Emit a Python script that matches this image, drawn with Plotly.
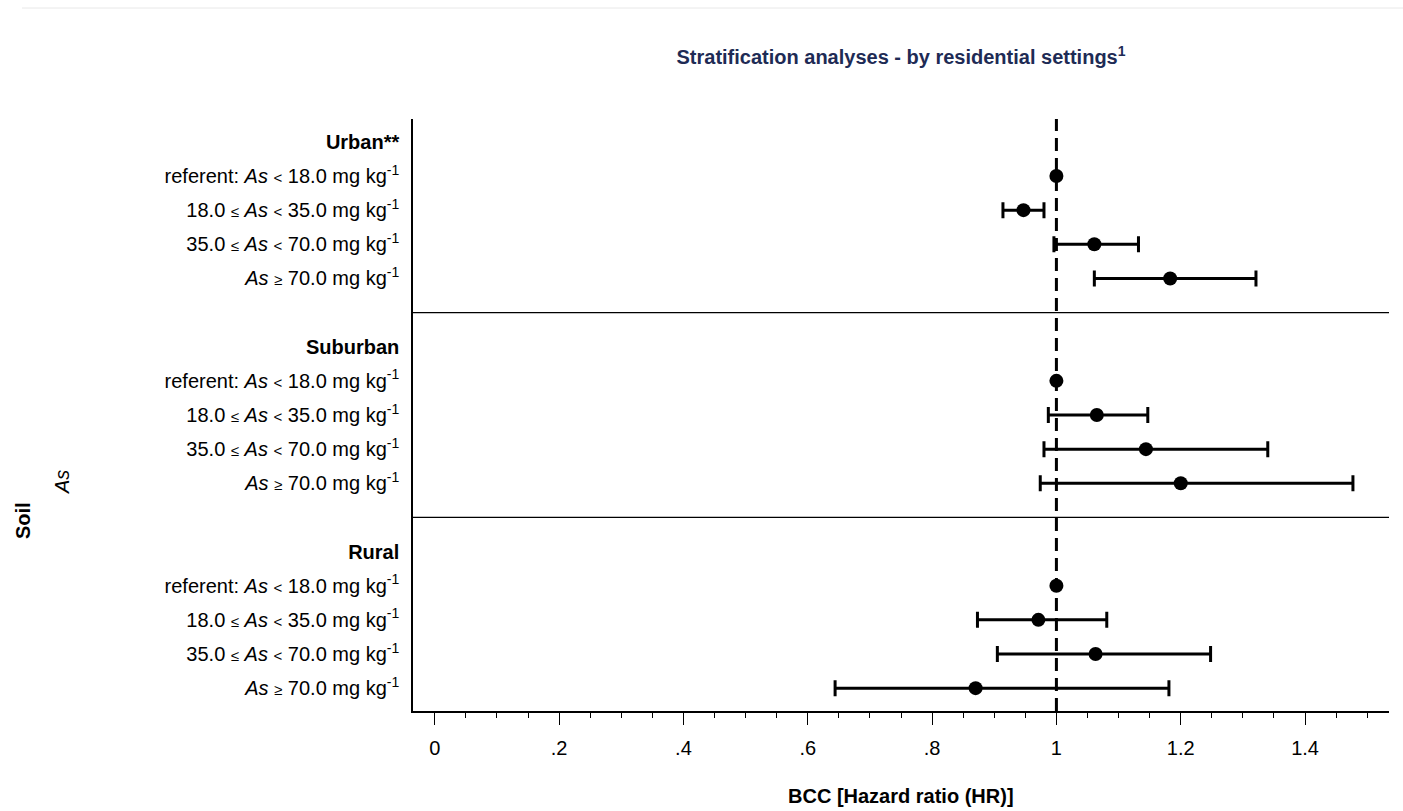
import plotly.graph_objects as go

# ---------------- data ----------------
groups = ["Urban**", "Suburban", "Rural"]
SYM = '<span style="font-size:15px">{}</span>'
row_labels = [
    "referent: <i>As</i> " + SYM.format("&lt;") + " 18.0 mg kg<sup>-1</sup>",
    "18.0 " + SYM.format("≤") + " <i>As</i> " + SYM.format("&lt;") + " 35.0 mg kg<sup>-1</sup>",
    "35.0 " + SYM.format("≤") + " <i>As</i> " + SYM.format("&lt;") + " 70.0 mg kg<sup>-1</sup>",
    "<i>As</i> " + SYM.format("≥") + " 70.0 mg kg<sup>-1</sup>",
]
hr_urban = [1.0, 0.947, 1.061, 1.183]
lo_urban = [None, 0.914, 0.996, 1.061]
hi_urban = [None, 0.980, 1.132, 1.321]
hr_suburban = [1.0, 1.065, 1.144, 1.200]
lo_suburban = [None, 0.987, 0.980, 0.974]
hi_suburban = [None, 1.147, 1.340, 1.477]
hr_rural = [1.0, 0.971, 1.063, 0.870]
lo_rural = [None, 0.873, 0.905, 0.644]
hi_rural = [None, 1.081, 1.248, 1.181]
x_tickvals = [0, 0.2, 0.4, 0.6, 0.8, 1.0, 1.2, 1.4]
x_ticktext = ["0", ".2", ".4", ".6", ".8", "1", "1.2", "1.4"]

hr_all = [hr_urban, hr_suburban, hr_rural]
lo_all = [lo_urban, lo_suburban, lo_rural]
hi_all = [hi_urban, hi_suburban, hi_rural]

FONT = "Liberation Sans, Arial, sans-serif"
FS = 20

# build rows
tickvals, ticktext = [], []
ref_x, ref_y = [], []
ci_x, ci_y, ci_plus, ci_minus = [], [], [], []
for g, name in enumerate(groups):
    base = g * 6
    tickvals.append(base)
    ticktext.append("<b>" + name + "</b>")
    for i, lab in enumerate(row_labels):
        yv = base + 1 + i
        tickvals.append(yv)
        ticktext.append(lab)
        h, lo, hi = hr_all[g][i], lo_all[g][i], hi_all[g][i]
        if lo is None:
            ref_x.append(h)
            ref_y.append(yv)
        else:
            ci_x.append(h)
            ci_y.append(yv)
            ci_plus.append(hi - h)
            ci_minus.append(h - lo)

fig = go.Figure()
fig.add_trace(go.Scatter(
    x=ci_x, y=ci_y, mode="markers",
    marker=dict(color="black", size=14, symbol="circle"),
    error_x=dict(type="data", symmetric=False, array=ci_plus, arrayminus=ci_minus,
                 color="black", thickness=3, width=8),
    showlegend=False, hoverinfo="x+y",
))
fig.add_trace(go.Scatter(
    x=ref_x, y=ref_y, mode="markers",
    marker=dict(color="black", size=14, symbol="circle"),
    showlegend=False,
))

shapes = []
# separators between groups
for g in range(len(groups) - 1):
    yv = g * 6 + 5
    shapes.append(dict(type="line", xref="paper", x0=0, x1=1, yref="y", y0=yv, y1=yv,
                       line=dict(color="black", width=1.2), layer="below"))
# reference line at HR = 1
shapes.append(dict(type="line", xref="x", x0=1, x1=1, yref="paper", y0=0, y1=1,
                   line=dict(color="black", width=3, dash="13px,7px"), layer="below"))
# faint top border
shapes.append(dict(type="line", xref="paper", x0=-0.4006, x1=1.02, yref="paper", y0=1.1875, y1=1.1875,
                   line=dict(color="#e8e8e8", width=1)))

annotations = [
    dict(text="<b>Soil</b>", xref="paper", yref="paper", x=-0.3996, y=0.3226,
         textangle=-90, showarrow=False, font=dict(size=FS, color="black", family=FONT),
         xanchor="center", yanchor="middle"),
    dict(text="<i>As</i>", xref="paper", yref="paper", x=-0.3596, y=0.3868,
         textangle=-90, showarrow=False, font=dict(size=FS, color="black", family=FONT),
         xanchor="center", yanchor="middle"),
    dict(text="<b>BCC [Hazard ratio (HR)]</b>", xref="paper", yref="paper", x=0.5, y=-0.1436,
         showarrow=False, font=dict(size=FS, color="black", family=FONT),
         xanchor="center", yanchor="middle"),
]

fig.update_layout(
    width=1403, height=811,
    margin=dict(l=413, r=14, t=119, b=100),
    paper_bgcolor="white", plot_bgcolor="white",
    font=dict(family=FONT, size=FS, color="black"),
    title=dict(text="<b>Stratification analyses - by residential settings<sup>1</sup></b>",
               x=0.5, xref="paper", xanchor="center", y=1 - 57 / 811, yanchor="middle",
               font=dict(size=FS, color="#1e2b55", family=FONT)),
    shapes=shapes,
    annotations=annotations,
    xaxis=dict(range=[-0.035, 1.535], tickvals=x_tickvals, ticktext=x_ticktext,
               showgrid=False, zeroline=False, showline=True, linecolor="black", linewidth=1.5,
               ticks="outside", ticklen=12, tickwidth=1.2, tickcolor="black",
               minor=dict(dtick=0.05, tick0=0, ticks="outside", ticklen=5, tickwidth=1.2,
                          tickcolor="black", showgrid=False),
               tickfont=dict(size=FS, family=FONT), ticklabelstandoff=6),
    yaxis=dict(range=[16.67, -0.67], tickvals=tickvals, ticktext=ticktext,
               showgrid=False, zeroline=False, showline=True, linecolor="black", linewidth=1.5,
               ticks="", tickfont=dict(size=FS, family=FONT), ticklabelstandoff=8),
)

fig.write_html("out.html")
